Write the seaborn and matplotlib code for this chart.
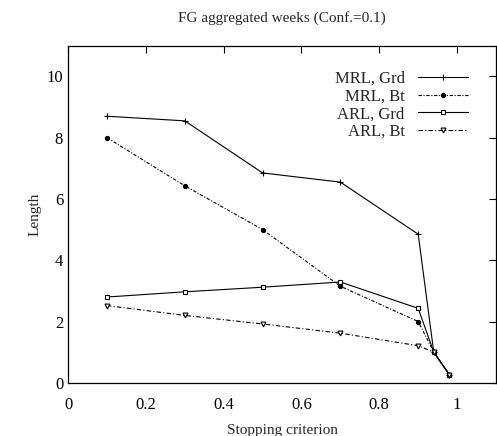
import pandas as pd
import matplotlib
matplotlib.use("Agg")
import matplotlib.pyplot as plt
import seaborn as sns

# valores
criterio = [0.1, 0.3, 0.5, 0.7, 0.9, 0.94, 0.98]
mrl_grd = [8.7, 8.55, 6.85, 6.55, 4.85, 1.0, 0.27]
mrl_bt = [8.0, 6.43, 5.0, 3.15, 2.0, 1.0, 0.27]
arl_grd = [2.8, 2.97, 3.12, 3.29, 2.43, 1.0, 0.27]
arl_bt = [2.52, 2.2, 1.92, 1.62, 1.21, 1.0, 0.27]

series = ["MRL, Grd", "MRL, Bt", "ARL, Grd", "ARL, Bt"]
valores = [mrl_grd, mrl_bt, arl_grd, arl_bt]

sns.set_style("white")
plt.rcParams['font.family'] = ['Liberation Serif', 'DejaVu Serif']

fig = plt.figure(figsize=(4.97, 4.36), dpi=100)
ax = fig.add_axes([0.137, 0.122, 0.861, 0.773])

estilos = {
    "MRL, Grd": dict(ls="-", marker="+", ms=5, mfc="black"),
    "MRL, Bt": dict(ls=(0, (3, 1.5, 1, 1.5)), marker="o", ms=3, mfc="black"),
    "ARL, Grd": dict(ls="-", marker="s", ms=3.2, mfc="white"),
    "ARL, Bt": dict(ls=(0, (4, 2, 1, 2)), marker="v", ms=3.5, mfc="white"),
}

for nome, vals in zip(series, valores):
    df = pd.DataFrame({"x": criterio, "y": vals})
    st = estilos[nome]
    sns.lineplot(data=df, x="x", y="y", ax=ax, color="black", lw=0.8,
                 linestyle=st["ls"], marker=st["marker"], markersize=st["ms"],
                 markerfacecolor=st["mfc"], markeredgecolor="black",
                 markeredgewidth=0.8, label=nome)

ax.set_xlim(0, 1.1)
ax.set_ylim(0, 11)
ax.set_xticks([0, 0.2, 0.4, 0.6, 0.8, 1])
ax.set_xticklabels(["0", "0.2", "0.4", "0.6", "0.8", "1"])
ax.set_yticks([0, 2, 4, 6, 8, 10])
ax.tick_params(direction="in", top=True, right=True, length=5, width=0.8,
               labelsize=12, colors="black")
ax.tick_params(axis="x", pad=10)
for s in ax.spines.values():
    s.set_color("black")
    s.set_linewidth(0.9)

ax.set_title("FG aggregated weeks (Conf.=0.1)", fontsize=11, pad=17)
ax.set_xlabel("Stopping criterion", fontsize=11, labelpad=8)
ax.set_ylabel("Length", fontsize=11, labelpad=4)

ax.legend(loc="upper right", bbox_to_anchor=(0.95, 0.945), frameon=False,
          markerfirst=False, fontsize=12, handlelength=3, labelspacing=0.1,
          handletextpad=0.8, borderaxespad=0)

fig.savefig("out.png", dpi=100)
